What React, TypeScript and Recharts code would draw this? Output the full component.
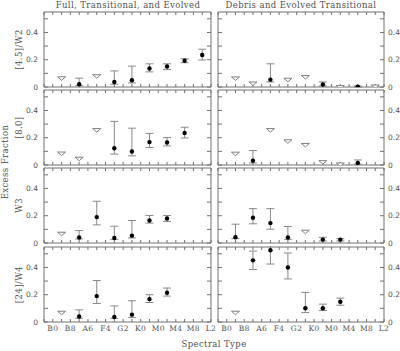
import React from 'react';
import { ScatterChart, Scatter, XAxis, YAxis, ErrorBar } from 'recharts';

const spectralTypes = ['B0', 'B8', 'A6', 'F4', 'G2', 'K0', 'M0', 'M4', 'M8', 'L2'];
const binCenters = [0.5, 1.5, 2.5, 3.5, 4.5, 5.5, 6.5, 7.5, 8.5];
const xTicks = [-0.5, 0, 0.5, 1, 1.5, 2, 2.5, 3, 3.5, 4, 4.5, 5, 5.5, 6, 6.5, 7, 7.5, 8, 8.5, 9];
const yTicks = [0, 0.1, 0.2, 0.3, 0.4, 0.5];

const columnTitles = ['Full, Transitional, and Evolved', 'Debris and Evolved Transitional'];
const bandLabels = ['[4.5]/W2', '[8.0]', 'W3', '[24]/W4'];

// value per bin; a bin with no low/high is an upper limit
const w2FullValue = [0.075, 0.02, 0.09, 0.037, 0.05, 0.136, 0.15, 0.193, 0.235];
const w2FullLow = [null, 0.01, null, 0.02, 0.03, 0.111, 0.128, 0.178, 0.198];
const w2FullHigh = [null, 0.065, null, 0.118, 0.153, 0.17, 0.17, 0.207, 0.277];

const w2DebrisValue = [0.074, 0.037, 0.054, 0.064, 0.084, 0.018, 0.01, 0.003, 0.015];
const w2DebrisLow = [null, null, 0.037, null, null, 0.008, null, 0.0, null];
const w2DebrisHigh = [null, null, 0.17, null, null, 0.037, null, 0.008, null];

const i8FullValue = [0.095, 0.057, 0.267, 0.123, 0.099, 0.168, 0.165, 0.235, null];
const i8FullLow = [null, null, null, 0.08, 0.067, 0.128, 0.14, 0.198, null];
const i8FullHigh = [null, null, null, 0.32, 0.27, 0.232, 0.202, 0.277, null];

const i8DebrisValue = [0.094, 0.032, 0.267, 0.185, 0.158, 0.032, 0.015, 0.015, null];
const i8DebrisLow = [null, 0.015, null, null, null, null, null, 0.007, null];
const i8DebrisHigh = [null, 0.106, null, null, null, null, null, 0.037, null];

const w3FullValue = [0.079, 0.04, 0.19, 0.037, 0.054, 0.165, 0.18, null, null];
const w3FullLow = [null, 0.03, 0.133, 0.027, 0.037, 0.146, 0.158, null, null];
const w3FullHigh = [null, 0.091, 0.306, 0.123, 0.165, 0.202, 0.202, null, null];

const w3DebrisValue = [0.042, 0.185, 0.146, 0.04, 0.094, 0.025, 0.025, null, null];
const w3DebrisLow = [0.032, 0.141, 0.101, 0.027, null, 0.015, 0.015, null, null];
const w3DebrisHigh = [0.138, 0.252, 0.252, 0.121, null, 0.042, 0.032, null, null];

const m24FullValue = [0.079, 0.04, 0.19, 0.037, 0.054, 0.168, 0.215, null, null];
const m24FullLow = [null, 0.027, 0.136, 0.027, 0.032, 0.143, 0.19, null, null];
const m24FullHigh = [null, 0.089, 0.304, 0.118, 0.156, 0.2, 0.249, null, null];

const m24DebrisValue = [0.079, 0.452, 0.526, 0.4, 0.101, 0.101, 0.148, null, null];
const m24DebrisLow = [null, 0.385, 0.425, 0.316, 0.069, 0.084, 0.123, null, null];
const m24DebrisHigh = [null, 0.52, 0.62, 0.506, 0.217, 0.131, 0.175, null, null];

const panels = [
  [[w2FullValue, w2FullLow, w2FullHigh], [w2DebrisValue, w2DebrisLow, w2DebrisHigh]],
  [[i8FullValue, i8FullLow, i8FullHigh], [i8DebrisValue, i8DebrisLow, i8DebrisHigh]],
  [[w3FullValue, w3FullLow, w3FullHigh], [w3DebrisValue, w3DebrisLow, w3DebrisHigh]],
  [[m24FullValue, m24FullLow, m24FullHigh], [m24DebrisValue, m24DebrisLow, m24DebrisHigh]],
];

const AXIS = '#707070';
const TEXT = '#505050';
const SERIF = 'DejaVu Serif';

const COLS = [
  { left: 0, width: 215, yLeft: 44, yRight: 4 },
  { left: 214, width: 186, yLeft: 4, yRight: 16 },
];
// charts overlap a little so that the "0" labels at panel bottoms are not cut
const ROWS = [
  { top: 0, height: 93, xTop: 12, xBottom: 6 },
  { top: 89, height: 82, xTop: 1, xBottom: 6 },
  { top: 167, height: 82, xTop: 1, xBottom: 6 },
  { top: 246, height: 105, xTop: 1, xBottom: 29 },
];

function buildRows(values: (number | null)[], lows: (number | null)[], highs: (number | null)[]) {
  const detections: any[] = [];
  const limits: any[] = [];
  values.forEach((v, i) => {
    if (v == null) return;
    const lo = lows[i];
    const hi = highs[i];
    if (lo == null || hi == null) limits.push({ x: binCenters[i], y: v });
    else detections.push({ x: binCenters[i], y: v, err: [v - lo, hi - v] });
  });
  return { detections, limits };
}

const Dot = (props: any) => <circle cx={props.cx} cy={props.cy} r={2.2} fill="#000" />;
const Limit = (props: any) => {
  const { cx, cy } = props;
  return (
    <path
      d={`M${cx - 4},${cy} L${cx + 4},${cy} L${cx},${cy + 3.5} Z`}
      fill="#fff"
      stroke={AXIS}
      strokeWidth={0.9}
    />
  );
};

const xLabel = (v: number) => (Number.isInteger(v) ? spectralTypes[v] : '');
const yLabel = (v: number) => {
  const k = Math.round(v * 10);
  if (k % 2 !== 0) return '';
  return k === 0 ? '0' : v.toFixed(1);
};
const blank = () => '';

function Panel({ row, col }: { row: number; col: number }) {
  const r = ROWS[row];
  const c = COLS[col];
  const [values, lows, highs] = panels[row][col];
  const { detections, limits } = buildRows(values, lows, highs);
  const tickFont = { fontSize: 7.5, fill: TEXT, fontFamily: SERIF, letterSpacing: 0.4 };
  const numFont = { fontSize: 7.5, fill: TEXT, fontFamily: 'DejaVu Sans' };
  return (
    <div style={{ position: 'absolute', left: c.left, top: r.top }}>
      <ScatterChart width={c.width} height={r.height} margin={{ top: 0, right: 0, bottom: 0, left: 0 }}>
        <XAxis
          xAxisId="b"
          type="number"
          dataKey="x"
          domain={[-0.5, 9]}
          ticks={xTicks}
          interval={0}
          allowDataOverflow
          height={r.xBottom}
          tickSize={-3}
          tickMargin={7}
          tickFormatter={row === 3 ? xLabel : blank}
          tick={tickFont}
          stroke={AXIS}
        />
        <XAxis
          xAxisId="t"
          orientation="top"
          type="number"
          dataKey="x"
          domain={[-0.5, 9]}
          ticks={xTicks}
          interval={0}
          allowDataOverflow
          height={r.xTop}
          tickSize={-3}
          tickFormatter={blank}
          stroke={AXIS}
        />
        <YAxis
          yAxisId="l"
          type="number"
          dataKey="y"
          domain={[0, 0.55]}
          ticks={yTicks}
          interval={0}
          allowDataOverflow
          width={c.yLeft}
          tickSize={-4}
          tickMargin={10}
          tickFormatter={col === 0 ? yLabel : blank}
          tick={numFont}
          stroke={AXIS}
        />
        <YAxis
          yAxisId="r"
          orientation="right"
          type="number"
          dataKey="y"
          domain={[0, 0.55]}
          ticks={yTicks}
          interval={0}
          allowDataOverflow
          width={c.yRight}
          tickSize={-4}
          tickMargin={8}
          tickFormatter={col === 1 ? yLabel : blank}
          tick={numFont}
          stroke={AXIS}
        />
        <Scatter xAxisId="b" yAxisId="l" data={limits} shape={Limit} isAnimationActive={false} />
        <Scatter xAxisId="b" yAxisId="l" data={detections} shape={Dot} isAnimationActive={false}>
          <ErrorBar dataKey="err" direction="y" width={4} stroke="#888" strokeWidth={1} isAnimationActive={false} />
        </Scatter>
      </ScatterChart>
    </div>
  );
}

export default function App() {
  const rowCenters = [49.5, 127.5, 205.5, 284.5];
  return (
    <div style={{ position: 'absolute', left: 0, top: 0, width: 400, height: 351, overflow: 'hidden', background: '#fff' }}>
      {ROWS.map((_, ri) => COLS.map((__, ci) => <Panel key={`${ri}-${ci}`} row={ri} col={ci} />))}
      <svg width={400} height={351} style={{ position: 'absolute', left: 0, top: 0, pointerEvents: 'none' }}>
        <g fontFamily={SERIF} fill={TEXT} fontSize={8.5} letterSpacing={0.4}>
          <text x={128} y={8} textAnchor="middle">{columnTitles[0]}</text>
          <text x={301} y={8} textAnchor="middle">{columnTitles[1]}</text>
          {bandLabels.map((b, i) => (
            <text key={b} x={19} y={rowCenters[i]} textAnchor="middle" dominantBaseline="central" transform={`rotate(-90 19 ${rowCenters[i]})`}>
              {b}
            </text>
          ))}
          <text x={5} y={162} textAnchor="middle" dominantBaseline="central" transform="rotate(-90 5 162)">Excess Fraction</text>
          <text x={214} y={347} textAnchor="middle">Spectral Type</text>
        </g>
      </svg>
    </div>
  );
}
